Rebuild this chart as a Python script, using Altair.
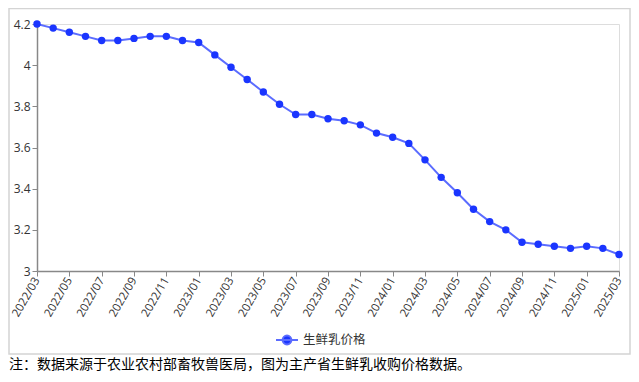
import altair as alt
import pandas as pd

months = [
    "2022/03", "2022/04", "2022/05", "2022/06", "2022/07", "2022/08", "2022/09",
    "2022/10", "2022/11", "2022/12", "2023/01", "2023/02", "2023/03", "2023/04",
    "2023/05", "2023/06", "2023/07", "2023/08", "2023/09", "2023/10", "2023/11",
    "2023/12", "2024/01", "2024/02", "2024/03", "2024/04", "2024/05", "2024/06",
    "2024/07", "2024/08", "2024/09", "2024/10", "2024/11", "2024/12", "2025/01",
    "2025/02", "2025/03",
]
prices = [
    4.20, 4.18, 4.16, 4.14, 4.12, 4.12, 4.13, 4.14, 4.14, 4.12, 4.11, 4.05,
    3.99, 3.93, 3.87, 3.81, 3.76, 3.76, 3.74, 3.73, 3.71, 3.67, 3.65, 3.62,
    3.54, 3.455, 3.38, 3.30, 3.24, 3.20, 3.14, 3.13, 3.12, 3.11, 3.12, 3.11, 3.08,
]
series_name = "生鲜乳价格"
tick_labels = months[::2]
y_ticks = [3, 3.2, 3.4, 3.6, 3.8, 4, 4.2]
footnote = "注：数据来源于农业农村部畜牧兽医局，图为主产省生鲜乳收购价格数据。"

df = pd.DataFrame({"month": months, "price": prices, "series": series_name})

LINE = "#5b6cff"
DOT = "#1a35ff"
FONT = "Open Sans"

x_enc = alt.X(
    "month:O",
    sort=months,
    scale=alt.Scale(type="point", padding=0),
    axis=alt.Axis(
        title=None, values=tick_labels, labelAngle=-60, labelAlign="right",
        labelBaseline="middle", labelPadding=2, tickSize=5, grid=False,
        domainColor="#888888", tickColor="#888888", labelColor="#333333",
        labelFont=FONT, labelFontSize=11.5, domainWidth=1.5,
    ),
)
y_enc = alt.Y(
    "price:Q",
    scale=alt.Scale(domain=[3, 4.2], nice=False, zero=False),
    axis=alt.Axis(
        title=None, values=y_ticks, format="~g", tickSize=5, grid=False,
        domainColor="#888888", tickColor="#888888", labelColor="#333333",
        labelFont=FONT, labelFontSize=12, labelPadding=2, domainWidth=1.5,
    ),
)

base = alt.Chart(df)

line = base.mark_line(color=LINE, strokeWidth=2).encode(x=x_enc, y=y_enc)

points = base.mark_point(filled=True, size=55, opacity=1).encode(
    x=x_enc,
    y=y_enc,
    color=alt.Color(
        "series:N",
        scale=alt.Scale(range=[DOT]),
        legend=alt.Legend(
            title=None, orient="none", legendX=238, legendY=304,
            symbolType="M-1,0H1M-0.4,0A0.4,0.4,0,1,1,0.4,0A0.4,0.4,0,1,1,-0.4,0Z",
            symbolSize=484, labelFont="Noto Sans CJK SC", labelFontSize=12.5,
            labelColor="#333333", labelOffset=4,
            symbolFillColor=DOT, symbolStrokeColor=LINE, symbolStrokeWidth=2,
            symbolOpacity=1,
        ),
    ),
)

frame_df = pd.DataFrame({"k": [0]})
frame = alt.Chart(frame_df).mark_rect(
    fill=None, stroke="#d4d4d4", strokeWidth=1.5
).encode(
    x=alt.value(-28), x2=alt.value(593), y=alt.value(-15.5), y2=alt.value(330)
)

note_df = pd.DataFrame({"t": [footnote]})
note = alt.Chart(note_df).mark_text(
    align="left", baseline="middle", font="Noto Sans CJK SC",
    fontSize=14, color="#000000",
).encode(text="t:N", x=alt.value(-28), y=alt.value(341))

chart = alt.layer(frame, line, points, note).properties(
    width=582, height=247,
    autosize=alt.AutoSizeParams(type="none"),
    padding={"left": 29, "top": 16, "right": 12, "bottom": 103},
).configure_view(stroke=None).configure(background="white")

chart.save("out.html", embed_options={"renderer": "svg", "actions": False})
